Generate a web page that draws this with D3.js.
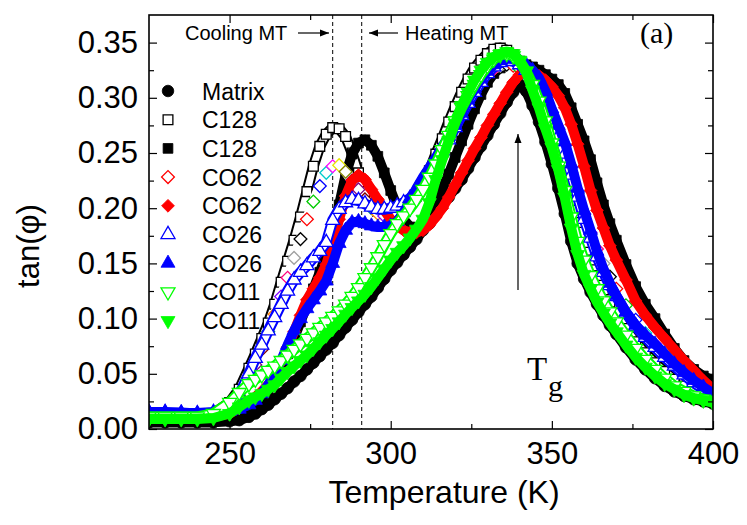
<!DOCTYPE html>
<html>
<head>
  <meta charset="utf-8">
  <title>tan(phi) vs Temperature</title>
  <script src="https://d3js.org/d3.v7.min.js"></script>
  <style>
    body { margin: 0; background: #fff; }
    text { font-family: "Liberation Sans", Arial, sans-serif; fill: #000; }
  </style>
</head>
<body>
  <svg id="grafico" width="747" height="525"></svg>

  <script>
    // temperaturas (K) comuns a todas as séries
    const temps = [225,230,235,240,245,250,253,256,258,260,262,264,266,268,270,272,274,276,278,280,
      282,284,286,288,290,292,294,296,298,300,302,304,306,308,310,312,314,316,318,320,
      322,324,326,328,330,332,334,336,338,340,342,344,346,348,350,352,354,356,358,360,
      362,364,366,368,370,373,376,379,382,385,388,391,394,397,400];

    const matrix = [0.006,0.006,0.006,0.006,0.006,0.007,0.008,0.011,0.014,0.018,0.022,0.027,0.032,0.037,0.043,0.048,0.054,0.060,0.066,0.072,
      0.078,0.085,0.092,0.099,0.106,0.113,0.120,0.128,0.136,0.144,0.151,0.158,0.165,0.172,0.180,0.186,0.194,0.202,0.210,0.218,
      0.226,0.236,0.246,0.256,0.266,0.276,0.286,0.296,0.305,0.312,0.306,0.293,0.278,0.260,0.240,0.218,0.195,0.170,0.150,0.136,
      0.124,0.113,0.103,0.094,0.086,0.074,0.063,0.054,0.046,0.039,0.034,0.030,0.027,0.025,0.023];

    const c128Cool = [0.012,0.012,0.012,0.012,0.014,0.024,0.036,0.055,0.068,0.082,0.096,0.113,0.133,0.152,0.171,0.192,0.215,0.238,0.256,0.267,
      0.273,0.272,0.265,0.250,0.232,0.215,0.203,0.197,0.195,0.196,0.198,0.201,0.205,0.211,0.220,0.234,0.249,0.263,0.278,0.292,
      0.305,0.317,0.327,0.334,0.340,0.344,0.345,0.343,0.339,0.333,0.326,0.316,0.303,0.287,0.269,0.249,0.228,0.207,0.187,0.169,
      0.153,0.139,0.126,0.115,0.105,0.091,0.079,0.069,0.060,0.052,0.045,0.039,0.034,0.030,0.027];

    const c128Heat = [0.012,0.012,0.012,0.012,0.012,0.013,0.015,0.019,0.023,0.028,0.035,0.044,0.055,0.068,0.082,0.097,0.112,0.127,0.142,0.158,
      0.178,0.203,0.230,0.249,0.259,0.262,0.257,0.247,0.232,0.216,0.201,0.190,0.183,0.182,0.185,0.193,0.204,0.217,0.231,0.246,
      0.261,0.276,0.290,0.303,0.314,0.322,0.327,0.330,0.331,0.331,0.330,0.328,0.325,0.321,0.317,0.312,0.304,0.291,0.276,0.261,
      0.244,0.223,0.203,0.186,0.171,0.149,0.129,0.113,0.100,0.086,0.073,0.062,0.054,0.048,0.044];

    const co62Cool = [0.012,0.012,0.012,0.012,0.013,0.020,0.030,0.045,0.058,0.072,0.088,0.104,0.120,0.137,0.155,0.172,0.190,0.206,0.220,0.232,
      0.238,0.239,0.233,0.225,0.217,0.208,0.200,0.195,0.193,0.193,0.195,0.198,0.203,0.209,0.217,0.227,0.238,0.250,0.262,0.274,
      0.286,0.297,0.307,0.315,0.321,0.326,0.329,0.330,0.329,0.326,0.321,0.314,0.305,0.294,0.280,0.265,0.250,0.232,0.213,0.195,
      0.178,0.163,0.150,0.138,0.127,0.112,0.099,0.087,0.077,0.068,0.059,0.051,0.045,0.039,0.034];

    const co62Heat = [0.011,0.011,0.011,0.011,0.011,0.014,0.019,0.025,0.029,0.034,0.040,0.050,0.061,0.074,0.088,0.103,0.117,0.127,0.137,0.149,
      0.168,0.190,0.211,0.225,0.230,0.226,0.217,0.208,0.198,0.190,0.184,0.180,0.178,0.178,0.180,0.185,0.192,0.200,0.210,0.221,
      0.232,0.243,0.254,0.264,0.275,0.285,0.295,0.305,0.314,0.321,0.323,0.322,0.320,0.316,0.310,0.302,0.291,0.276,0.258,0.238,
      0.216,0.198,0.182,0.166,0.153,0.135,0.116,0.103,0.092,0.082,0.072,0.062,0.053,0.044,0.036];

    const co26Cool = [0.015,0.015,0.014,0.014,0.015,0.020,0.031,0.050,0.064,0.076,0.089,0.101,0.113,0.125,0.135,0.142,0.148,0.155,0.161,0.169,
      0.189,0.199,0.205,0.208,0.207,0.204,0.201,0.199,0.199,0.200,0.202,0.205,0.209,0.215,0.222,0.231,0.241,0.252,0.262,0.273,
      0.284,0.295,0.305,0.314,0.322,0.328,0.332,0.334,0.333,0.330,0.325,0.318,0.308,0.295,0.280,0.265,0.249,0.230,0.210,0.190,
      0.173,0.156,0.142,0.130,0.120,0.105,0.093,0.083,0.074,0.065,0.057,0.049,0.042,0.036,0.031];

    const co26Heat = [0.015,0.015,0.015,0.014,0.014,0.016,0.018,0.022,0.026,0.032,0.040,0.050,0.062,0.076,0.089,0.100,0.109,0.117,0.125,0.134,
      0.150,0.168,0.180,0.187,0.188,0.186,0.184,0.183,0.183,0.184,0.188,0.196,0.207,0.218,0.228,0.237,0.246,0.256,0.265,0.275,
      0.286,0.298,0.308,0.317,0.324,0.330,0.334,0.336,0.335,0.333,0.330,0.325,0.318,0.306,0.290,0.275,0.260,0.240,0.218,0.198,
      0.180,0.161,0.145,0.132,0.121,0.106,0.094,0.085,0.077,0.068,0.059,0.051,0.044,0.038,0.032];

    const co11Cool = [0.011,0.011,0.011,0.011,0.014,0.024,0.033,0.041,0.045,0.049,0.053,0.057,0.062,0.067,0.072,0.077,0.082,0.087,0.092,0.097,
      0.102,0.107,0.113,0.120,0.128,0.137,0.146,0.156,0.167,0.177,0.186,0.193,0.200,0.208,0.217,0.228,0.240,0.253,0.266,0.279,
      0.291,0.302,0.312,0.321,0.329,0.335,0.339,0.340,0.338,0.333,0.324,0.312,0.297,0.279,0.259,0.238,0.216,0.192,0.170,0.153,
      0.139,0.127,0.116,0.106,0.097,0.085,0.073,0.063,0.054,0.046,0.039,0.034,0.030,0.027,0.025];

    const co11Heat = [0.009,0.009,0.009,0.009,0.010,0.014,0.020,0.026,0.029,0.032,0.036,0.040,0.046,0.052,0.057,0.062,0.067,0.073,0.079,0.085,
      0.091,0.097,0.104,0.110,0.116,0.122,0.129,0.137,0.145,0.153,0.160,0.166,0.173,0.181,0.190,0.205,0.226,0.244,0.261,0.277,
      0.293,0.305,0.316,0.325,0.332,0.337,0.340,0.342,0.340,0.334,0.324,0.307,0.291,0.272,0.255,0.235,0.210,0.182,0.158,0.140,
      0.127,0.115,0.105,0.096,0.088,0.076,0.065,0.056,0.048,0.041,0.036,0.031,0.028,0.026,0.024];

    const nomes = ["Matrix", "C128", "C128", "CO62", "CO62", "CO26", "CO26", "CO11", "CO11"];
    const xTicks = [250, 300, 350, 400];
    const xMinor = [275, 325, 375];
    const yTicks = [0, 0.05, 0.10, 0.15, 0.20, 0.25, 0.30, 0.35];
    const yMinor = [0.025, 0.075, 0.125, 0.175, 0.225, 0.275, 0.325];
    const mtCooling = 282;
    const mtHeating = 291;

    const width = 747;
    const height = 525;
    const margin = { left: 149, right: 34, top: 15, bottom: 96 };
    const plotW = width - margin.left - margin.right;
    const plotH = height - margin.top - margin.bottom;

    const svg = d3.select("#grafico");

    const x = d3.scaleLinear().domain([225, 400]).range([margin.left, margin.left + plotW]);
    const y = d3.scaleLinear().domain([0, 0.375]).range([margin.top + plotH, margin.top]);

    // cores ciclicas da serie CO62 (resfriamento)
    const arcoIris = ["#ff0000", "#00cc00", "#0000ff", "#00cccc", "#ff00ff", "#e6e600", "#808000", "#000080",
      "#800080", "#800000", "#008080", "#ff8000", "#8000ff", "#ff0080", "#a0a0a0", "#000000"];

    const series = [
      { valores: matrix, forma: "circle", cor: "#000000", cheio: true },
      { valores: c128Cool, forma: "square", cor: "#000000", cheio: false },
      { valores: c128Heat, forma: "square", cor: "#000000", cheio: true },
      { valores: co62Cool, forma: "diamond", cor: "#ff0000", cheio: false, ciclo: true },
      { valores: co62Heat, forma: "diamond", cor: "#ff0000", cheio: true },
      { valores: co26Cool, forma: "up", cor: "#0000ff", cheio: false },
      { valores: co26Heat, forma: "up", cor: "#0000ff", cheio: true },
      { valores: co11Cool, forma: "down", cor: "#00ff00", cheio: false },
      { valores: co11Heat, forma: "down", cor: "#00ff00", cheio: true }
    ];

    const simbolos = {
      circle: { d: d3.symbol().type(d3.symbolCircle).size(105)(), rot: 0 },
      square: { d: d3.symbol().type(d3.symbolSquare).size(95)(), rot: 0 },
      diamond: { d: d3.symbol().type(d3.symbolSquare).size(82)(), rot: 45 },
      up: { d: d3.symbol().type(d3.symbolTriangle).size(85)(), rot: 0 },
      down: { d: d3.symbol().type(d3.symbolTriangle).size(85)(), rot: 180 }
    };

    svg.append("defs").append("clipPath").attr("id", "area")
      .append("rect")
      .attr("x", margin.left).attr("y", margin.top)
      .attr("width", plotW).attr("height", plotH);

    const plot = svg.append("g").attr("clip-path", "url(#area)");

    // linhas tracejadas das transicoes martensiticas
    plot.selectAll(".mt")
      .data([mtCooling, mtHeating])
      .enter().append("line")
      .attr("x1", d => x(d)).attr("x2", d => x(d))
      .attr("y1", margin.top).attr("y2", margin.top + plotH)
      .attr("stroke", "#000")
      .attr("stroke-width", 1)
      .attr("stroke-dasharray", "4,3");

    const linha = d3.line().x(d => x(d[0])).y(d => y(d[1])).curve(d3.curveLinear);

    series.forEach(s => {
      const sym = simbolos[s.forma];
      const pontos = temps.map((t, i) => [t, s.valores[i]]);
      const g = plot.append("g");

      // faixa continua sob os simbolos (os dados originais sao muito densos)
      if (s.cheio) {
        g.append("path").attr("d", linha(pontos))
          .attr("fill", "none").attr("stroke", s.cor)
          .attr("stroke-width", 10).attr("stroke-linejoin", "round").attr("stroke-linecap", "round");
      } else {
        if (!s.ciclo) {
          g.append("path").attr("d", linha(pontos))
            .attr("fill", "none").attr("stroke", s.cor)
            .attr("stroke-width", 11).attr("stroke-linejoin", "round").attr("stroke-linecap", "round");
        }
        g.append("path").attr("d", linha(pontos))
          .attr("fill", "none").attr("stroke", "#fff")
          .attr("stroke-width", s.ciclo ? 10 : 7).attr("stroke-linejoin", "round").attr("stroke-linecap", "round");
      }

      g.selectAll(".m")
        .data(pontos)
        .enter().append("path")
        .attr("d", sym.d)
        .attr("transform", d => `translate(${x(d[0])},${y(d[1])}) rotate(${sym.rot})`)
        .attr("fill", s.cheio ? s.cor : "#fff")
        .attr("stroke", (d, i) => s.ciclo ? arcoIris[i % arcoIris.length] : s.cor)
        .attr("stroke-width", s.cheio ? 0.8 : 1.3);
    });

    // eixos com marcas para dentro
    function eixo(gerador, ticks, tam, rotulo) {
      return gerador.tickValues(ticks).tickSizeInner(-tam).tickSizeOuter(0)
        .tickFormat(rotulo ? d3.format(rotulo) : "");
    }

    const fonte = "31px";

    svg.append("g").attr("transform", `translate(0,${margin.top + plotH})`)
      .call(eixo(d3.axisBottom(x), xTicks, 8, "d").tickPadding(13));
    svg.append("g").attr("transform", `translate(0,${margin.top + plotH})`)
      .call(eixo(d3.axisBottom(x), xMinor, 5, null));
    svg.append("g").attr("transform", `translate(0,${margin.top})`)
      .call(eixo(d3.axisTop(x), xTicks, 8, null));
    svg.append("g").attr("transform", `translate(0,${margin.top})`)
      .call(eixo(d3.axisTop(x), xMinor, 5, null));

    svg.append("g").attr("transform", `translate(${margin.left},0)`)
      .call(eixo(d3.axisLeft(y), yTicks, 8, ".2f").tickPadding(11));
    svg.append("g").attr("transform", `translate(${margin.left},0)`)
      .call(eixo(d3.axisLeft(y), yMinor, 5, null));
    svg.append("g").attr("transform", `translate(${margin.left + plotW},0)`)
      .call(eixo(d3.axisRight(y), yTicks, 8, null));
    svg.append("g").attr("transform", `translate(${margin.left + plotW},0)`)
      .call(eixo(d3.axisRight(y), yMinor, 5, null));

    svg.selectAll(".domain").remove();
    svg.selectAll(".tick line").attr("stroke", "#000").attr("stroke-width", 1.2);
    svg.selectAll(".tick text")
      .style("font-family", '"Liberation Sans", Arial, sans-serif')
      .style("font-size", fonte)
      .attr("fill", "#000");

    svg.append("rect")
      .attr("x", margin.left).attr("y", margin.top)
      .attr("width", plotW).attr("height", plotH)
      .attr("fill", "none")
      .attr("stroke", "#000")
      .attr("stroke-width", 1.6);

    // titulos dos eixos
    svg.append("text")
      .attr("x", 444).attr("y", 503)
      .attr("text-anchor", "middle")
      .style("font-size", "32px")
      .text("Temperature (K)");

    svg.append("text")
      .attr("transform", "translate(39,246) rotate(-90)")
      .attr("text-anchor", "middle")
      .style("font-size", "31px")
      .text("tan(\u03c6)");

    // anotacoes
    const seta = (x1, y1, x2, y2) => {
      svg.append("line")
        .attr("x1", x1).attr("y1", y1).attr("x2", x2).attr("y2", y2)
        .attr("stroke", "#000").attr("stroke-width", 1.2);
      const ang = Math.atan2(y2 - y1, x2 - x1);
      const L = 9, W = 3.5;
      const p = [
        [x2, y2],
        [x2 - L * Math.cos(ang) + W * Math.sin(ang), y2 - L * Math.sin(ang) - W * Math.cos(ang)],
        [x2 - L * Math.cos(ang) - W * Math.sin(ang), y2 - L * Math.sin(ang) + W * Math.cos(ang)]
      ];
      svg.append("polygon").attr("points", p.map(q => q.join(",")).join(" ")).attr("fill", "#000");
    };

    svg.append("text").attr("x", 185).attr("y", 40).style("font-size", "20px").text("Cooling MT");
    seta(298, 33, 329, 33);
    seta(398, 33, 369, 33);
    svg.append("text").attr("x", 405).attr("y", 40).style("font-size", "20px").text("Heating MT");

    svg.append("text")
      .attr("x", 640).attr("y", 43)
      .style("font-family", '"Liberation Serif", "Times New Roman", serif')
      .style("font-size", "30px")
      .text("(a)");

    seta(518, 290, 518, 134);
    svg.append("text")
      .attr("x", 527).attr("y", 380)
      .style("font-family", '"Liberation Serif", "Times New Roman", serif')
      .style("font-size", "33px")
      .text("T");
    svg.append("text")
      .attr("x", 548).attr("y", 396)
      .style("font-family", '"Liberation Serif", "Times New Roman", serif')
      .style("font-size", "30px")
      .text("g");

    // legenda
    const legenda = svg.append("g");
    series.forEach((s, i) => {
      const cy = 91 + i * 28.7;
      const sym = simbolos[s.forma];
      legenda.append("path")
        .attr("d", sym.d)
        .attr("transform", `translate(168,${cy}) rotate(${sym.rot})`)
        .attr("fill", s.cheio ? s.cor : "#fff")
        .attr("stroke", s.cor)
        .attr("stroke-width", s.cheio ? 0.8 : 1.3);
      legenda.append("text")
        .attr("x", 202).attr("y", cy + 8.5)
        .style("font-size", "23px")
        .text(nomes[i]);
    });
  </script>
</body>
</html>
